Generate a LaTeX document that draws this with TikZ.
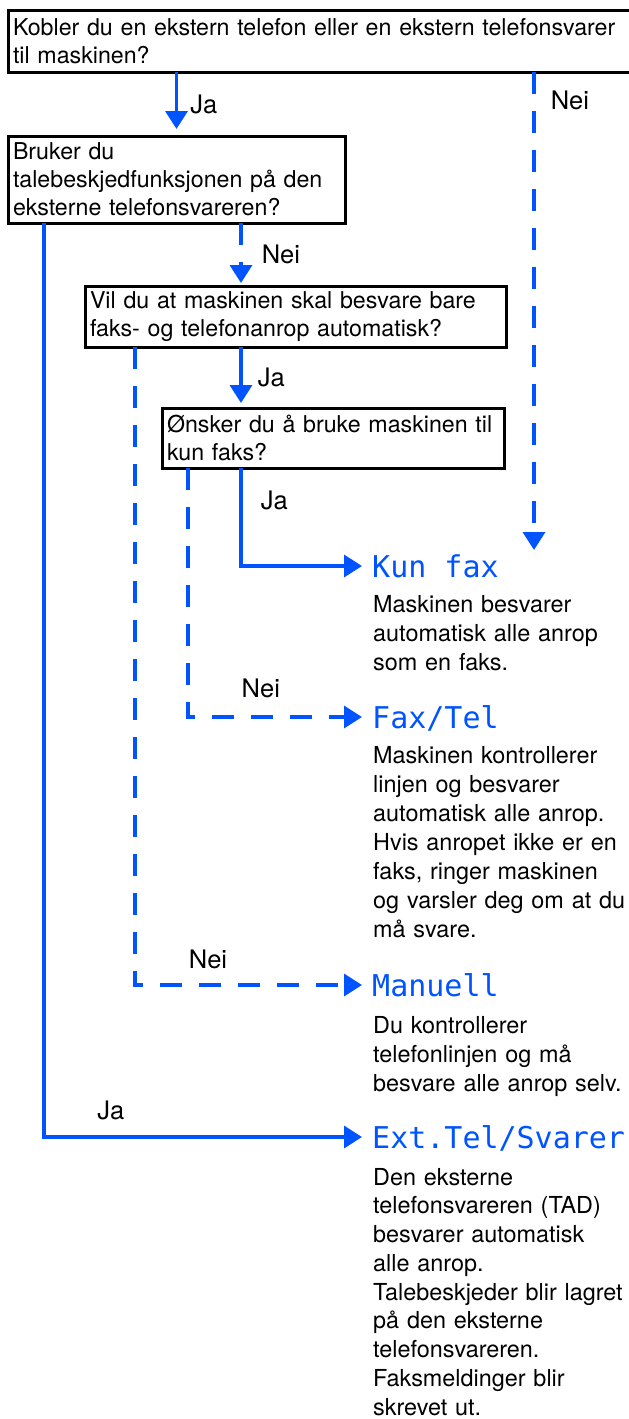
\documentclass[tikz,border=0pt]{standalone}
\usepackage{fontspec}
\setmainfont{TeX Gyre Heros}
\newfontfamily\lcdfont{DejaVu Sans Mono}
\usepackage{tikz}
\usetikzlibrary{arrows.meta, positioning, calc}
\usepackage{xcolor}
\definecolor{flowblue}{RGB}{0,84,255}
\tikzstyle{question} = [rectangle, draw=black, line width=3pt, anchor=north west,
    inner xsep=5pt, inner ysep=0pt, outer sep=0pt, align=left,
    font=\fontsize{23.2}{28}\selectfont]
\tikzstyle{lcd} = [anchor=base west, inner sep=0pt, text height=22pt, text depth=0pt,
    text=flowblue, font=\lcdfont\fontsize{30}{30}\selectfont]
\tikzstyle{desc} = [anchor=base west, inner sep=0pt, text width=258pt, align=left,
    font=\fontsize{23.4}{29}\selectfont]
\tikzstyle{jaline} = [draw=flowblue, line width=3.5pt, -{Triangle[length=18pt,width=22pt]}]
\tikzstyle{neiline} = [jaline, dash pattern=on 22pt off 17pt]
\tikzstyle{lbl} = [inner sep=0pt, text=black, font=\fontsize{25.5}{28}\selectfont]

\begin{document}
\begin{tikzpicture}[x=1pt, y=-1pt]
\useasboundingbox (0,0) rectangle (629,1419);

% --- spoersmaal (bokser) ---
\node (kobler) [question, minimum width=624pt, minimum height=62pt, text width=614pt] at (8,10)
    {Kobler du en ekstern telefon eller en ekstern telefonsvarer\\til maskinen?};
\node (bruker) [question, minimum width=337pt, minimum height=87pt, text width=327pt] at (8,136)
    {Bruker du\\talebeskjedfunksjonen p\aa{} den\\eksterne telefonsvareren?};
\node (vil) [question, minimum width=421pt, minimum height=61pt, text width=411pt] at (85,286)
    {Vil du at maskinen skal besvare bare\\faks- og telefonanrop automatisk?};
\node (onsker) [question, minimum width=342pt, minimum height=60pt, text width=332pt] at (162,408)
    {\O nsker du \aa{} bruke maskinen til\\kun faks?};

% --- svarmodus (display) ---
\node (kunfax) [lcd] at (372,577) {Kun fax};
\node (faxtel) [lcd] at (372,728) {Fax/Tel};
\node (manuell) [lcd] at (372,996) {Manuell};
\node (extel) [lcd] at (372,1148) {Ext.Tel/Svarer};

\node (kunfaxtxt) [desc] at (373,612)
    {Maskinen besvarer\\automatisk alle anrop\\som en faks.};
\node (faxteltxt) [desc] at (373,763)
    {Maskinen kontrollerer\\linjen og besvarer\\automatisk alle anrop.\\Hvis anropet ikke er en\\faks, ringer maskinen\\og varsler deg om at du\\m\aa{} svare.};
\node (manuelltxt) [desc] at (373,1033)
    {Du kontrollerer\\telefonlinjen og m\aa{}\\besvare alle anrop selv.};
\node (exteltxt) [desc, font=\fontsize{23.4}{28.75}\selectfont] at (373,1185)
    {Den eksterne\\telefonsvareren (TAD)\\besvarer automatisk\\alle anrop.\\Talebeskjeder blir lagret\\p\aa{} den eksterne\\telefonsvareren.\\Faksmeldinger blir\\skrevet ut.};

% --- kolonner for linjene ---
\coordinate (neitop) at (534,550);
\coordinate (col2) at (241,0);
\coordinate (col3) at (188,0);
\coordinate (col4) at (135,0);
\coordinate (col5) at (44,0);

% --- piler ---
\draw[jaline, shorten >=7pt] (kobler.south -| bruker.north) -- node[lbl, midway, right=12pt]{Ja} (bruker.north);
\draw[neiline] (kobler.south -| neitop) -- node[lbl, pos=0.06, right=15pt]{Nei} (neitop);
\draw[neiline, shorten >=3pt] (bruker.south -| col2) -- node[lbl, midway, right=19pt]{Nei} (vil.north -| col2);
\draw[jaline, shorten >=5pt] (vil.south -| col2) -- node[lbl, midway, right=15pt]{Ja} (onsker.north -| col2);
\draw[jaline, shorten >=10pt] (onsker.south -| col2) |- node[lbl, pos=0.165, right=18pt]{Ja} (kunfax.west);
\draw[neiline, shorten >=10pt] (onsker.south -| col3) |- node[lbl, pos=0.698, above=17pt]{Nei} (faxtel.west);
\draw[neiline, shorten >=10pt] (vil.south -| col4) |- node[lbl, pos=0.654, above=14pt]{Nei} (manuell.west);
\draw[jaline, shorten >=10pt] (bruker.south -| col5) |- node[lbl, pos=0.602, above=15pt]{Ja} (extel.west);
\end{tikzpicture}
\end{document}
